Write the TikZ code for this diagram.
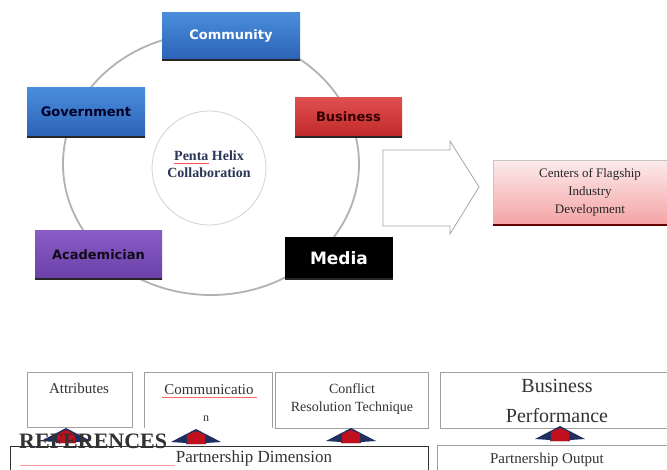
\documentclass[tikz,border=0pt]{standalone}
\usepackage{fontspec}
\setmainfont{Liberation Serif}
\newfontfamily\labfont{DejaVu Sans}
\definecolor{navyarr}{HTML}{1F2F5F}
\definecolor{redarr}{HTML}{C0101E}
\definecolor{blueA}{HTML}{4A8EDC}
\definecolor{blueB}{HTML}{2C62B6}
\definecolor{redA}{HTML}{E05050}
\definecolor{redB}{HTML}{C02828}
\definecolor{purA}{HTML}{8A5CC6}
\definecolor{purB}{HTML}{6A40A8}
\definecolor{pinkA}{HTML}{FDEBEB}
\definecolor{pinkB}{HTML}{F4A3A5}
\definecolor{txtblue}{HTML}{2A3656}
\begin{document}
\begin{tikzpicture}[x=1pt,y=-1pt,
  helixbox/.style={rectangle, inner sep=0pt, font=\labfont\bfseries\fontsize{13}{13}\selectfont},
  plainbox/.style={rectangle, inner sep=0pt, draw=gray!75, line width=1pt},
  sertext/.style={inner sep=0pt, text=black!80},
  uparrow/.pic={
    \fill[navyarr] (-25,6) -- (0,-7) -- (25,6) -- (10,7) -- (10,8) -- (-10,8) -- (-10,7) -- cycle;
    \fill[redarr] (-9,8) -- (-9,-1) -- (0,-5) -- (9,-1) -- (9,8) -- cycle;
  }]
\useasboundingbox (0,0) rectangle (667,469);
\fill[white] (0,0) rectangle (667,469);

% big ring
\draw[gray!60, line width=1.8pt] (211,164) ellipse [x radius=148, y radius=131];
% inner circle
\node[circle, draw=gray!35, line width=0.8pt, minimum size=114pt, inner sep=0pt] (core) at (209,168) {};
\node[sertext, text=txtblue, align=center, font=\bfseries\fontsize{14}{17}\selectfont] (coretext) at (209,164) {Penta Helix\\Collaboration};
\draw[red!70, line width=0.5pt] (174,163) -- (209,163);

% helix boxes
\node[helixbox, top color=blueA, bottom color=blueB, minimum width=138pt, minimum height=48pt, text=white] (community) at (231,36) {Community};
\node[helixbox, top color=blueA, bottom color=blueB, minimum width=118pt, minimum height=50pt, text=black!85!blue] (government) at (86,112) {Government};
\node[helixbox, top color=redA, bottom color=redB, minimum width=107pt, minimum height=40pt, text=black!80!red] (business) at (348.5,117) {Business};
\node[helixbox, top color=purA, bottom color=purB, minimum width=127pt, minimum height=49pt, text=black!85!purB] (academician) at (98.5,254.5) {Academician};
\node[helixbox, fill=black, minimum width=108pt, minimum height=42pt, text=white, font=\labfont\bfseries\fontsize{17}{17}\selectfont] (media) at (339,258) {Media};
\foreach \n in {community,government,business,academician,media}
  \draw[black!85, line width=2pt] (\n.south west) -- (\n.south east);

% hollow block arrow
\draw[gray!70, line width=0.8pt, fill=white] (383,150) -- (450,150) -- (450,141) -- (479,187) -- (450,234) -- (450,226) -- (383,226) -- cycle;

% centers box
\node[rectangle, inner sep=0pt, top color=pinkA, bottom color=pinkB, draw=gray!45, line width=0.5pt, minimum width=174pt, minimum height=65pt] (centers) at (580,192.5) {};
\draw[black!60!red, line width=1.6pt] (centers.south west) -- (centers.south east);
\node[sertext, text=black!85, align=center, font=\fontsize{13}{18}\selectfont] (centerstext) at (590,192) {Centers of Flagship\\Industry\\Development};

% bottom boxes
\node[plainbox, minimum width=105pt, minimum height=55pt] (attr) at (79.5,399.5) {};
\node[rectangle, inner sep=0pt, minimum width=127pt, minimum height=55pt] (comm) at (208.5,400.5) {};
\draw[gray!75, line width=1pt] (comm.south west) -- (comm.north west) -- (comm.north east) -- (comm.south east);
\node[plainbox, minimum width=153pt, minimum height=56pt] (conflict) at (351.5,400) {};
\node[plainbox, minimum width=230pt, minimum height=56pt] (perf) at (555,400) {};
\node[rectangle, inner sep=0pt, draw=black!80, line width=1pt, minimum width=418pt, minimum height=40pt] (dim) at (219,466) {};
\node[plainbox, minimum width=232pt, minimum height=40pt] (output) at (553,465) {};

\node[sertext, font=\fontsize{15}{15}\selectfont] (attrtext) at (79,388) {Attributes};
\node[sertext, font=\fontsize{15}{15}\selectfont] (commtext) at (209,390) {Communicatio};
\draw[red!60, line width=0.5pt] (162,397.5) -- (257,397.5);
\node[sertext, font=\fontsize{12}{12}\selectfont] (commtext2) at (206,419) {n};
\node[sertext, align=center, font=\fontsize{14}{18}\selectfont] (conftext) at (352,399) {Conflict\\Resolution Technique};
\node[sertext, align=center, font=\fontsize{20}{30}\selectfont] (perftext) at (557,401) {Business\\Performance};
\node[sertext, font=\fontsize{17}{17}\selectfont] (dimtext) at (254,458) {Partnership Dimension};
\node[sertext, font=\fontsize{15}{15}\selectfont] (outtext) at (547,460) {Partnership Output};

% up arrows
\pic at (66,435) {uparrow};
\pic at (196,436) {uparrow};
\pic at (351,435) {uparrow};
\pic at (560,433) {uparrow};

% overlapping heading
\draw[red!40, line width=0.8pt] (20,465) -- (175,465);
\node[inner sep=0pt, anchor=base west, text=black!80, font=\bfseries\fontsize{22}{22}\selectfont] (refs) at (19,448) {REFERENCES};
\end{tikzpicture}
\end{document}
